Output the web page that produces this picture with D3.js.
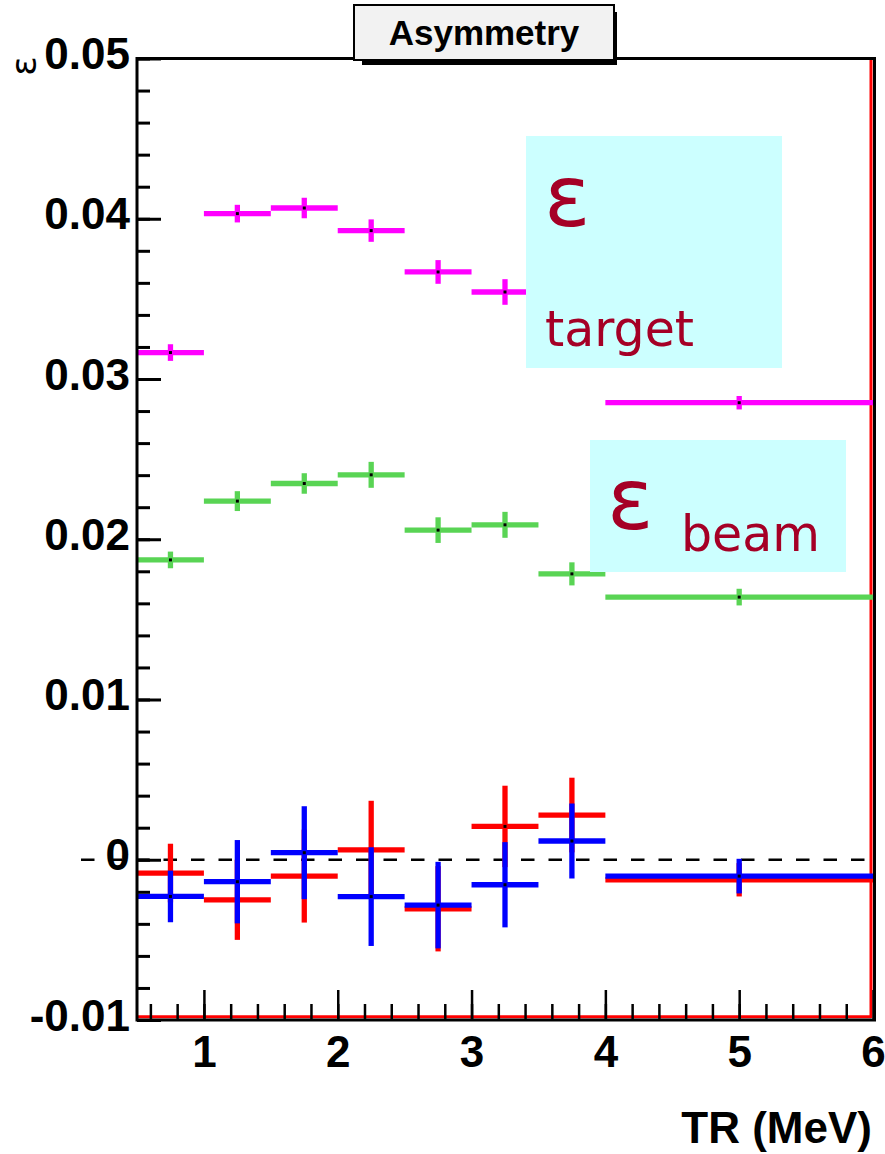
<!DOCTYPE html>
<html>
<head>
<meta charset="utf-8">
<script src="https://cdn.jsdelivr.net/npm/d3@7"></script>
<style>
  body { margin: 0; background: #fff; }
  svg { display: block; }
</style>
</head>
<body>
<svg id="chart" width="885" height="1154"></svg>
<script>
// bins in TR (MeV)
const binLo = [0.5, 1.0, 1.5, 2.0, 2.5, 3.0, 3.5, 4.0];
const binHi = [1.0, 1.5, 2.0, 2.5, 3.0, 3.5, 4.0, 6.0];

// epsilon target (magenta)
const targetVals = [0.03165, 0.04032, 0.04067, 0.03926, 0.03668, 0.03543, 0.0335, 0.02852];
const targetErr  = [0.00052, 0.00055, 0.00064, 0.00070, 0.00074, 0.00080, 0.00080, 0.00042];

// epsilon beam (green)
const beamVals = [0.01871, 0.02238, 0.02348, 0.02402, 0.02057, 0.02090, 0.01784, 0.01639];
const beamErr  = [0.00052, 0.00062, 0.00064, 0.00081, 0.00080, 0.00081, 0.00072, 0.00052];

// red series
const redVals = [-0.00083, -0.00250, -0.00102, 0.00062, -0.00306, 0.00208, 0.00279, -0.00125];
const redErr  = [0.00183, 0.00250, 0.00290, 0.00306, 0.00266, 0.00254, 0.00233, 0.00104];

// blue series
const blueVals = [-0.00229, -0.00137, 0.00044, -0.00230, -0.00283, -0.00156, 0.00117, -0.00102];
const blueErr  = [0.00161, 0.00260, 0.00290, 0.00308, 0.00270, 0.00266, 0.00234, 0.00108];

// axes
const yTicks = [-0.01, 0, 0.01, 0.02, 0.03, 0.04, 0.05];
const yTickLabels = ['-0.01', '0', '0.01', '0.02', '0.03', '0.04', '0.05'];
const xTicks = [1, 2, 3, 4, 5, 6];
const xTickLabels = ['1', '2', '3', '4', '5', '6'];

const svg = d3.select('#chart');

const x = d3.scaleLinear().domain([0.5, 6]).range([137, 873]);
const y = d3.scaleLinear().domain([-0.01, 0.05]).range([1020, 58.5]);

const tickFont = '"Liberation Sans", Arial, Helvetica, sans-serif';
const legendFont = '"DejaVu Sans", Verdana, sans-serif';

// red frame (drawn under the data)
svg.append('line')
    .attr('x1', x(0.5)).attr('x2', x(6) - 2)
    .attr('y1', y(-0.01) - 3.3).attr('y2', y(-0.01) - 3.3)
    .attr('stroke', '#ff0000').attr('stroke-width', 3);
svg.append('line')
    .attr('x1', x(6) - 2).attr('x2', x(6) - 2)
    .attr('y1', y(0.05)).attr('y2', y(-0.01) - 2)
    .attr('stroke', '#ff0000').attr('stroke-width', 3);

// dashed zero line
svg.append('line')
    .attr('x1', 81).attr('x2', x(6))
    .attr('y1', y(0)).attr('y2', y(0))
    .attr('stroke', '#000').attr('stroke-width', 2.5)
    .attr('stroke-dasharray', '13.5,14');

// one series of error crosses
function drawSeries(vals, errs, color) {
    const g = svg.append('g');
    vals.forEach((v, i) => {
        const cx = x((binLo[i] + binHi[i]) / 2);
        g.append('line')
            .attr('x1', x(binLo[i])).attr('x2', x(binHi[i]))
            .attr('y1', y(v)).attr('y2', y(v))
            .attr('stroke', color).attr('stroke-width', 5.3);
        g.append('line')
            .attr('x1', cx).attr('x2', cx)
            .attr('y1', y(v - errs[i])).attr('y2', y(v + errs[i]))
            .attr('stroke', color).attr('stroke-width', 5.3);
        g.append('rect')
            .attr('x', cx - 1.5).attr('y', y(v) - 1.5)
            .attr('width', 3).attr('height', 3)
            .attr('fill', '#000');
    });
}

drawSeries(targetVals, targetErr, '#ff00ff');
drawSeries(beamVals, beamErr, '#59d454');
drawSeries(redVals, redErr, '#ff0000');
drawSeries(blueVals, blueErr, '#0000ff');

// legend boxes
const legendColor = '#a50026';
svg.append('rect')
    .attr('x', 526).attr('y', 136).attr('width', 256).attr('height', 232)
    .attr('fill', '#ccffff');
svg.append('text')
    .attr('x', 544).attr('y', 226)
    .attr('font-family', legendFont).attr('font-size', 86)
    .attr('fill', legendColor).text('ε');
svg.append('text')
    .attr('x', 545).attr('y', 346)
    .attr('font-family', legendFont).attr('font-size', 49)
    .attr('fill', legendColor).text('target');

svg.append('rect')
    .attr('x', 590).attr('y', 440).attr('width', 256).attr('height', 132)
    .attr('fill', '#ccffff');
svg.append('text')
    .attr('x', 607).attr('y', 529)
    .attr('font-family', legendFont).attr('font-size', 86)
    .attr('fill', legendColor).text('ε');
svg.append('text')
    .attr('x', 681).attr('y', 550.5)
    .attr('font-family', legendFont).attr('font-size', 49)
    .attr('fill', legendColor).text('beam');

// y axis: major + minor ticks pointing into the frame
const yAxis = svg.append('g')
    .attr('transform', `translate(${x(0.5)},0)`)
    .call(d3.axisLeft(y)
        .tickValues(yTicks)
        .tickSizeInner(-24).tickSizeOuter(0)
        .tickPadding(7)
        .tickFormat((d, i) => yTickLabels[i]));
yAxis.select('.domain').remove();
yAxis.selectAll('line').attr('stroke', '#000').attr('stroke-width', 3);
yAxis.selectAll('text')
    .attr('dy', '10px')
    .attr('font-family', tickFont).attr('font-weight', 'bold')
    .attr('font-size', 44).attr('fill', '#000');

const yMinor = d3.range(-0.01, 0.0501, 0.002);
const yMinorAxis = svg.append('g')
    .attr('transform', `translate(${x(0.5)},0)`)
    .call(d3.axisRight(y).tickValues(yMinor).tickSize(13).tickFormat(''));
yMinorAxis.select('.domain').remove();
yMinorAxis.selectAll('line').attr('stroke', '#000').attr('stroke-width', 3);

// x axis
const xAxis = svg.append('g')
    .attr('transform', `translate(0,${y(-0.01)})`)
    .call(d3.axisBottom(x)
        .tickValues(xTicks)
        .tickSizeInner(-30).tickSizeOuter(0)
        .tickPadding(0)
        .tickFormat((d, i) => xTickLabels[i]));
xAxis.select('.domain').remove();
xAxis.selectAll('line').attr('stroke', '#000').attr('stroke-width', 2.5);
xAxis.selectAll('text')
    .attr('dy', '47px')
    .attr('font-family', tickFont).attr('font-weight', 'bold')
    .attr('font-size', 44).attr('fill', '#000');

const xMinor = d3.range(0.6, 6.0, 0.2);
const xMinorAxis = svg.append('g')
    .attr('transform', `translate(0,${y(-0.01)})`)
    .call(d3.axisTop(x).tickValues(xMinor).tickSize(16).tickFormat(''));
xMinorAxis.select('.domain').remove();
xMinorAxis.selectAll('line').attr('stroke', '#000').attr('stroke-width', 2.5);

// black frame
svg.append('rect')
    .attr('x', x(0.5)).attr('y', y(0.05))
    .attr('width', x(6) - x(0.5) + 1.5).attr('height', y(-0.01) - y(0.05))
    .attr('fill', 'none').attr('stroke', '#000').attr('stroke-width', 3);

// axis titles
svg.append('text')
    .attr('x', 872).attr('y', 1143)
    .attr('text-anchor', 'end')
    .attr('font-family', tickFont).attr('font-weight', 'bold')
    .attr('font-size', 44).attr('fill', '#000')
    .text('TR (MeV)');

svg.append('text')
    .attr('transform', 'translate(36,66) rotate(-90)')
    .attr('text-anchor', 'middle')
    .attr('font-family', legendFont).attr('font-size', 36)
    .attr('fill', '#000')
    .text('ε');

// title box with shadow
svg.append('rect')
    .attr('x', 362).attr('y', 12).attr('width', 255).attr('height', 53)
    .attr('fill', '#000');
svg.append('rect')
    .attr('x', 354).attr('y', 5).attr('width', 260).attr('height', 55)
    .attr('fill', '#f2f2f2').attr('stroke', '#000').attr('stroke-width', 2);
svg.append('text')
    .attr('x', 484).attr('y', 45)
    .attr('text-anchor', 'middle')
    .attr('font-family', tickFont).attr('font-weight', 'bold')
    .attr('font-size', 35).attr('fill', '#000')
    .text('Asymmetry');
</script>
</body>
</html>
